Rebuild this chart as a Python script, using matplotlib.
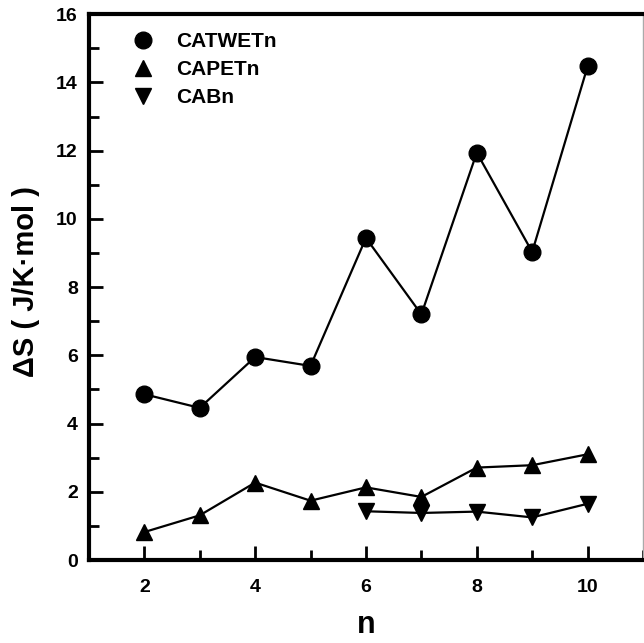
import matplotlib.pyplot as plt
from matplotlib.ticker import MultipleLocator
from matplotlib.lines import Line2D

plt.rcParams['font.family'] = ['Liberation Sans', 'DejaVu Sans']
plt.rcParams['font.weight'] = 'bold'

n_all = [2, 3, 4, 5, 6, 7, 8, 9, 10]
catwet = [4.86, 4.46, 5.95, 5.69, 9.44, 7.2, 11.94, 9.03, 14.47]
capet = [0.82, 1.31, 2.27, 1.74, 2.13, 1.85, 2.71, 2.78, 3.1]
n_cab = [6, 7, 8, 9, 10]
cab = [1.43, 1.38, 1.42, 1.25, 1.65]

fig = plt.figure(figsize=(6.44, 6.43), dpi=100)
ax = fig.add_axes([0.138, 0.129, 0.8605, 0.849])

ax.plot(n_all, catwet, '-o', color='black', lw=1.6, ms=12)
ax.plot(n_all, capet, '-^', color='black', lw=1.6, ms=12)
ax.plot(n_cab, cab, '-v', color='black', lw=1.6, ms=12)

ax.set_xlim(1, 11)
ax.set_ylim(0, 16)
ax.xaxis.set_major_locator(MultipleLocator(2))
ax.xaxis.set_minor_locator(MultipleLocator(1))
ax.yaxis.set_major_locator(MultipleLocator(2))
ax.yaxis.set_minor_locator(MultipleLocator(1))
ax.set_xticks([2, 4, 6, 8, 10])
ax.tick_params(which='both', direction='in', width=2, top=False, right=False,
               labelsize=14)
ax.tick_params(axis='x', pad=14)
ax.tick_params(axis='y', pad=8)
ax.tick_params(which='major', length=10)
ax.tick_params(which='minor', length=7)
for lab in ax.get_xticklabels() + ax.get_yticklabels():
    lab.set_fontweight('bold')

for s in ['left', 'bottom', 'top']:
    ax.spines[s].set_linewidth(3)
ax.spines['right'].set_linewidth(1)
ax.spines['right'].set_color('#aaaaaa')

ax.set_xlabel('n', fontsize=22, fontweight='bold', labelpad=10)
ax.set_ylabel('ΔS ( J/K·mol )', fontsize=21, fontweight='bold')
ax.yaxis.set_label_coords(-0.088, 0.51)

handles = [Line2D([], [], ls='none', marker=m, color='black', ms=12) for m in ['o', '^', 'v']]
ax.legend(handles, ['CATWETn', 'CAPETn', 'CABn'], loc='upper left', frameon=False,
          prop={'size': 15, 'weight': 'bold'}, bbox_to_anchor=(0.045, 0.982),
          handletextpad=0.6, labelspacing=0.42, borderaxespad=0)

fig.savefig('out.png', dpi=100)
